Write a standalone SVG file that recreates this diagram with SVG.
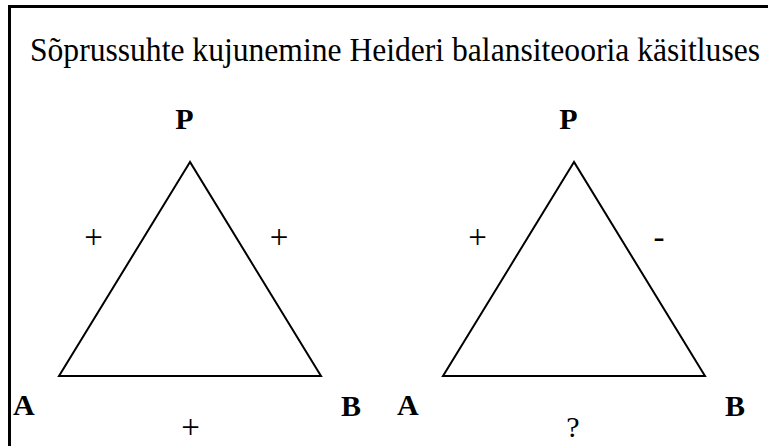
<svg xmlns="http://www.w3.org/2000/svg" width="768" height="446" viewBox="0 0 768 446">
<style>
.frame{stroke:#000;stroke-width:3;fill:none}
.tri{stroke:#000;stroke-width:2;fill:none;stroke-linejoin:miter}
text{font-family:'Liberation Serif','Times New Roman',Tinos,'DejaVu Serif',serif;fill:#000}
.v{font-weight:bold;font-size:30px}
.s{font-size:33px;text-anchor:middle}
</style>
<rect width="768" height="446" fill="#fff"/>
<path class="frame" d="M9.5 446 V6.5 H768"/>
<text x="30" y="61" font-size="33" textLength="730" lengthAdjust="spacingAndGlyphs">Sõprussuhte kujunemine Heideri balansiteooria käsitluses</text>
<g id="connectors">
<polygon class="tri" points="190,162 59,376 321,376"/>
<polygon class="tri" points="574,162 443,376 705,376"/>
</g>
<g id="P1"><text class="v" x="184.5" y="129" text-anchor="middle">P</text></g>
<g id="A1"><text class="v" x="13" y="415">A</text></g>
<g id="B1"><text class="v" x="341" y="416">B</text></g>
<g id="P2"><text class="v" x="568.5" y="129" text-anchor="middle">P</text></g>
<g id="A2"><text class="v" x="397" y="415">A</text></g>
<g id="B2"><text class="v" x="725" y="416">B</text></g>
<g id="labels">
<text class="s" x="93.5" y="248">+</text>
<text class="s" x="279" y="248">+</text>
<text class="s" x="190.5" y="438">+</text>
<text class="s" x="477.5" y="248">+</text>
<text class="s" x="659" y="248">-</text>
<text x="573" y="437" font-size="30" text-anchor="middle">?</text>
</g>
</svg>
